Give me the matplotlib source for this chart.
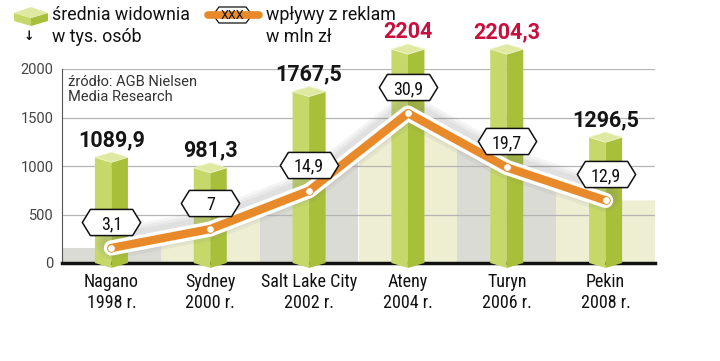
import numpy as np
import matplotlib.pyplot as plt
from matplotlib.patches import Polygon, Rectangle
from matplotlib.lines import Line2D
from matplotlib.path import Path
from matplotlib.transforms import offset_copy

plt.rcParams['font.family'] = ['Roboto Condensed', 'DejaVu Sans']
WIDE = ['Roboto', 'DejaVu Sans']

# data
miasta = ['Nagano\n1998 r.', 'Sydney\n2000 r.', 'Salt Lake City\n2002 r.',
          'Ateny\n2004 r.', 'Turyn\n2006 r.', 'Pekin\n2008 r.']
widownia = [1089.9, 981.3, 1767.5, 2204, 2204.3, 1296.5]   # tys. osob
reklamy = [3.1, 7, 14.9, 30.9, 19.7, 12.9]                 # mln zl
yticks = [0, 500, 1000, 1500, 2000]

GREEN_L = '#c6d86a'
GREEN_D = '#a8bf3a'
GREEN_T = '#dfe9a2'
ORANGE = '#e98a2a'
RED = '#c8103e'
STRIPES = ['#dbdbd5', '#eeeed3']

W, H = 720, 361
fig = plt.figure(figsize=(W/100, H/100), dpi=100)
ax = fig.add_axes([62/W, 1-263/H, (655-62)/W, (263-69)/H])
ax.set_xlim(-0.5, 5.5)
ax.set_ylim(0, 2000)
ax2 = ax.twinx()
ax2.set_ylim(0, 40)
ax2.axis('off')

def comma(v):
    return f'{v:g}'.replace('.', ',')

x = np.arange(len(widownia))

# striped background under the line
xs = [-0.5] + list(x) + [5.5, 5.5, -0.5]
ys = [reklamy[0]] + reklamy + [reklamy[-1], 0, 0]
clip = Polygon(np.column_stack([xs, ys]), closed=True, transform=ax2.transData)
for i in x:
    r = Rectangle((i-0.5, 0), 1, 2000, color=STRIPES[i % 2], zorder=0.3, lw=0)
    ax.add_patch(r)
    r.set_clip_path(clip)

ax.set_yticks(yticks)
ax.set_axisbelow(True)
ax.grid(axis='y', color='#b4b4b4', lw=0.9)
ax.tick_params(axis='y', length=0, labelsize=10.5, labelcolor='#444', pad=6)
for t in ax.get_yticklabels():
    t.set_family(WIDE)
ax.set_xticks(x)
ax.set_xticklabels(miasta, fontsize=13, linespacing=1.25, color='#111')
ax.tick_params(axis='x', length=0, pad=7)
for s in ['top', 'right']:
    ax.spines[s].set_visible(False)
ax.spines['left'].set_color('#555')
ax.spines['left'].set_linewidth(0.8)
ax.spines['bottom'].set_color('#111')
ax.spines['bottom'].set_linewidth(2.5)

# 3d bars
upp = 2000/194.0
hw = 0.167
e = 5*upp
for i, v in zip(x, widownia):
    left = [(i-hw, v), (i, v-e), (i, -e), (i-hw, 0)]
    right = [(i, v-e), (i+hw, v), (i+hw, 0), (i, -e)]
    top = [(i-hw, v), (i, v-e), (i+hw, v), (i, v+e)]
    ax.add_patch(Polygon(left, closed=True, fc=GREEN_L, ec='none', zorder=3, clip_on=False))
    ax.add_patch(Polygon(right, closed=True, fc=GREEN_D, ec='none', zorder=3, clip_on=False))
    ax.add_patch(Polygon(top, closed=True, fc=GREEN_T, ec='#eef3c8', lw=0.6, zorder=3.1, clip_on=False))
    ax.annotate(comma(v), (i, v), xytext=(0, 17), textcoords='offset pixels',
                ha='center', va='center', fontsize=15.5, fontweight='bold', family=WIDE,
                color=RED if v > 2000 else '#151515', annotation_clip=False, zorder=4)

# line with shadow
for k, lw in enumerate([22, 18, 14]):
    ax2.plot(x, reklamy, color='#777', lw=lw, alpha=0.08, solid_capstyle='round',
             solid_joinstyle='round', transform=offset_copy(ax2.transData, fig=fig, y=4, units='dots'))
ax2.plot(x, reklamy, color='white', lw=11, solid_capstyle='round', solid_joinstyle='round')
ax2.plot(x, reklamy, color=ORANGE, lw=6, solid_capstyle='round', solid_joinstyle='round')
ax2.plot(x, reklamy, 'o', ms=5.5, mfc='white', mec=ORANGE, mew=0.6)

hexv = [(-29, 0), (-21, 13), (21, 13), (29, 0), (21, -13), (-21, -13), (-29, 0)]
hexc = [Path.MOVETO] + [Path.LINETO]*5 + [Path.CLOSEPOLY]
hexpath = Path(hexv, hexc)
ax2.plot(x, reklamy, ls='none', marker=hexpath, ms=42, mfc='white', mec='#111', mew=1.1,
         transform=offset_copy(ax2.transData, fig=fig, y=26, units='dots'))
for i, r in zip(x, reklamy):
    ax2.annotate(comma(r), (i, r), xytext=(0, 26), textcoords='offset pixels',
                 ha='center', va='center_baseline', fontsize=13, color='#111')

ax.text(0.01, 0.968, 'źródło: AGB Nielsen\nMedia Research', transform=ax.transAxes,
        va='top', ha='left', fontsize=10.5, color='#333', linespacing=1.1, family=WIDE)

# legend
def px(pts):
    return [(a/W, 1-b/H) for a, b in pts]

fig.add_artist(Polygon(px([(14, 13), (31, 18), (31, 26), (14, 21)]), fc=GREEN_L, ec='none'))
fig.add_artist(Polygon(px([(31, 18), (48, 13), (48, 21), (31, 26)]), fc=GREEN_D, ec='none'))
fig.add_artist(Polygon(px([(14, 13), (31, 18), (48, 13), (31, 7)]), fc=GREEN_T, ec='none'))
fig.text(29/W, 1-37/H, '↓', ha='center', va='center', fontsize=9, fontweight='bold', color='#111')
fig.text(52/W, 1-15/H, 'średnia widownia', ha='left', va='center', fontsize=12.8, color='#111', family=WIDE)
fig.text(52/W, 1-37/H, 'w tys. osób', ha='left', va='center', fontsize=12.8, color='#111', family=WIDE)

fig.add_artist(Line2D([208/W, 259/W], [1-15/H, 1-15/H], color=ORANGE, lw=5.5, solid_capstyle='round'))
fig.add_artist(Polygon(px([(213, 15), (219, 7), (246, 7), (252, 15), (246, 23), (219, 23)]),
                       fc='white', ec='#111', lw=0.9))
fig.text(232.5/W, 1-15.5/H, 'XXX', ha='center', va='center', fontsize=9, color='#111', family=WIDE)
fig.text(266/W, 1-15/H, 'wpływy z reklam', ha='left', va='center', fontsize=12.8, color='#111', family=WIDE)
fig.text(266/W, 1-37/H, 'w mln zł', ha='left', va='center', fontsize=12.8, color='#111', family=WIDE)

fig.savefig('out.png', dpi=100)
